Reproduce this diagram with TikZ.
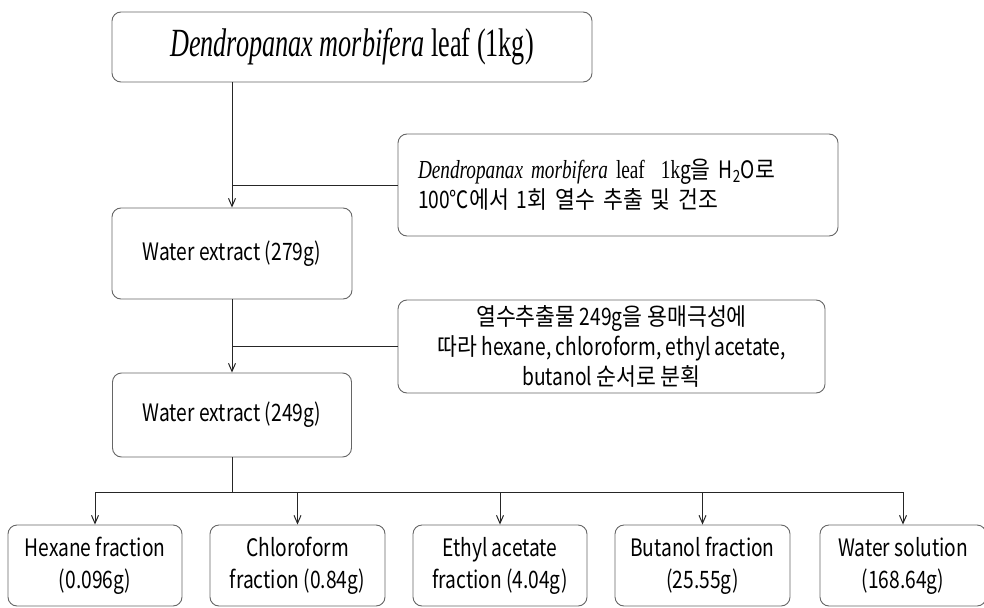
\documentclass[tikz,border=0pt]{standalone}
\usepackage{fontspec}
\setmainfont{Liberation Serif}
\newfontfamily\ko[FakeStretch=0.8]{Noto Sans CJK KR}
\newfontfamily\kh[FakeStretch=0.9]{Noto Sans CJK KR}
\newfontfamily\sr[FakeStretch=0.655]{Liberation Serif}
\newfontfamily\srn[FakeStretch=0.74]{Liberation Serif}
\usetikzlibrary{arrows.meta}
\begin{document}
\begin{tikzpicture}[x=1pt,y=-1pt,
  box/.style={draw=black!60, line width=0.9pt, rounded corners=9pt, fill=white, inner sep=0pt, align=center},
  ln/.style={draw=black!85, line width=1pt},
  arr/.style={ln, -{Straight Barb[length=8pt,width=7pt,line width=1pt]}},
  kf/.style={font=\ko\fontsize{24}{30}\selectfont},
  kb/.style={font=\ko\fontsize{24}{32}\selectfont}
]
\useasboundingbox (0,0) rectangle (984,607);
\node[box, minimum width=480pt, minimum height=70pt, font=\sr\fontsize{40}{42}\selectfont] (top) at (352,47) {\textit{Dendropanax morbifera} leaf (1kg)};
\node[box, kf, align=left, text width=400pt, inner xsep=20pt, minimum height=102pt] (n1) at (618,185)
  {{\srn\fontsize{26}{30}\selectfont\textit{Dendropanax morbifera} leaf\ \ 1k}g{\kh 을} H\textsubscript{2}O{\kh 로}\\100℃{\kh 에서} 1{\kh 회 열수 추출 및 건조}};
\node[box, kf, minimum width=240pt, minimum height=91pt] (w1) at (232,253.5) {Water extract (279g)};
\node[box, kf, minimum width=427pt, minimum height=93pt] (n2) at (611.5,346.5)
  {{\kh 열수추출물} 249g{\kh 을 용매극성에}\\{\kh 따라} hexane, chloroform, ethyl acetate,\\butanol {\kh 순서로 분획}};
\node[box, kf, minimum width=239pt, minimum height=84pt] (w2) at (232,415) {Water extract (249g)};
\node[box, kb, minimum width=174pt, minimum height=81pt] (b1) at (95,565.5) {Hexane fraction\\(0.096g)};
\node[box, kb, minimum width=175pt, minimum height=81pt] (b2) at (297.5,565.5) {Chloroform\\fraction (0.84g)};
\node[box, kb, minimum width=174pt, minimum height=81pt] (b3) at (500,565.5) {Ethyl acetate\\fraction (4.04g)};
\node[box, kb, minimum width=175pt, minimum height=81pt] (b4) at (702.5,565.5) {Butanol fraction\\(25.55g)};
\node[box, kb, minimum width=166pt, minimum height=81pt] (b5) at (903,565.5) {Water solution\\(168.64g)};
\draw[arr] (top.south -| w1.north) -- (w1.north);
\draw[ln] (w1.north |- n1.west) -- (n1.west);
\draw[arr] (w1.south) -- (w2.north);
\draw[ln] (w1.south |- n2.west) -- (n2.west);
\coordinate (bus) at (232,492);
\draw[ln] (w2.south) -- (bus);
\draw[ln] (b1.north |- bus) -- (b5.north |- bus);
\foreach \b in {b1,b2,b3,b4,b5} \draw[arr] (\b.north |- bus) -- (\b.north);
\end{tikzpicture}
\end{document}
